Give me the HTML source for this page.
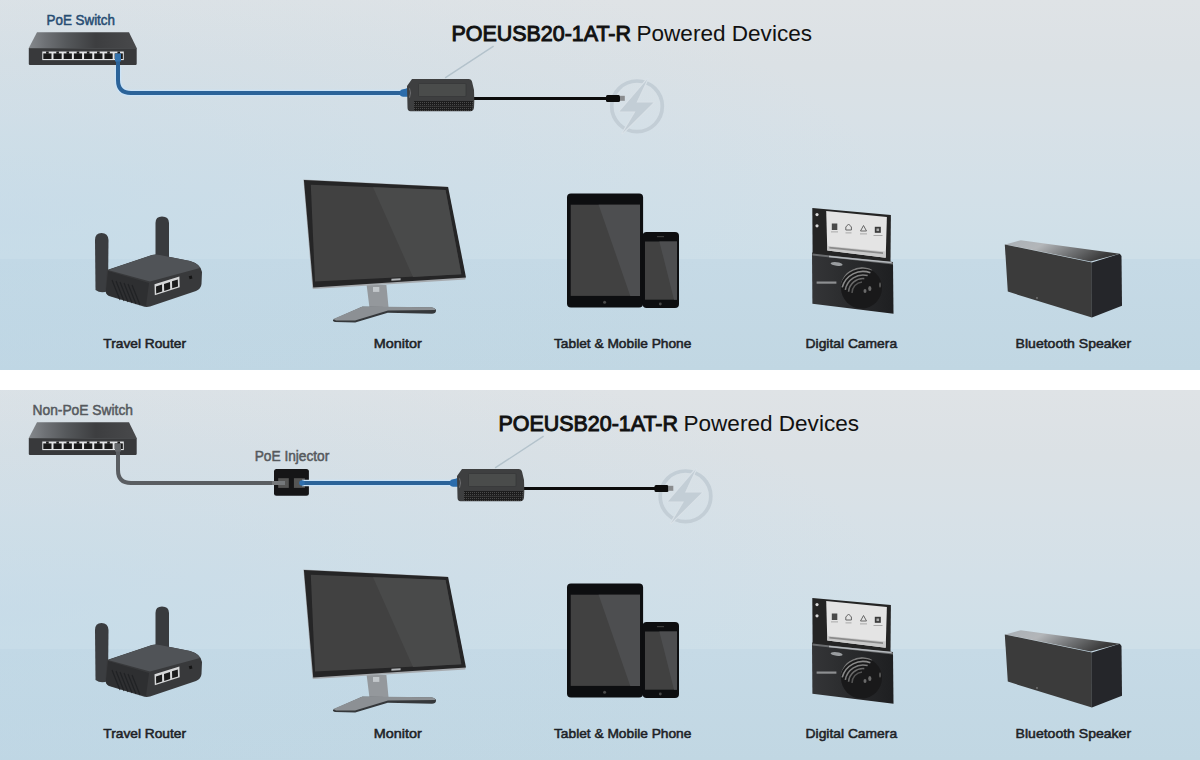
<!DOCTYPE html>
<html><head><meta charset="utf-8">
<style>
html,body{margin:0;padding:0;background:#fff;width:1200px;height:760px;overflow:hidden}
svg{display:block}
text{font-family:"Liberation Sans",sans-serif}
</style></head>
<body>
<svg width="1200" height="760" viewBox="0 0 1200 760">
<defs>
  <linearGradient id="sky" x1="0" y1="0" x2="0" y2="1">
    <stop offset="0" stop-color="#dfe3e6"/>
    <stop offset="0.25" stop-color="#dbe1e5"/>
    <stop offset="0.46" stop-color="#d8e1e7"/>
    <stop offset="0.73" stop-color="#d3e0e8"/>
    <stop offset="1" stop-color="#cedfe8"/>
  </linearGradient>
  <linearGradient id="flr" x1="0" y1="0" x2="0" y2="1">
    <stop offset="0" stop-color="#c6dae6"/>
    <stop offset="1" stop-color="#c1d7e3"/>
  </linearGradient>
  <radialGradient id="skyov" gradientUnits="userSpaceOnUse" cx="0" cy="220" r="900" gradientTransform="translate(0 220) scale(1 0.3333) translate(0 -220)">
    <stop offset="0" stop-color="#bed8e8" stop-opacity="0.5"/>
    <stop offset="1" stop-color="#bed8e8" stop-opacity="0"/>
  </radialGradient>
  <linearGradient id="flrov" gradientUnits="userSpaceOnUse" x1="0" y1="0" x2="700" y2="0">
    <stop offset="0" stop-color="#bcd6e6" stop-opacity="0.4"/>
    <stop offset="1" stop-color="#bcd6e6" stop-opacity="0"/>
  </linearGradient>
  <g id="bgp">
    <rect x="0" y="0" width="1200" height="259" fill="url(#sky)"/>
    <rect x="0" y="0" width="1200" height="259" fill="url(#skyov)"/>
    <rect x="0" y="259" width="1200" height="111" fill="url(#flr)"/>
    <rect x="0" y="259" width="1200" height="111" fill="url(#flrov)"/>
  </g>

  <linearGradient id="swtop" x1="0" y1="0" x2="1" y2="0">
    <stop offset="0" stop-color="#85898d"/>
    <stop offset="0.15" stop-color="#6e7175"/>
    <stop offset="0.35" stop-color="#55585b"/>
    <stop offset="0.62" stop-color="#3d3e40"/>
    <stop offset="1" stop-color="#48494b"/>
  </linearGradient>
  <linearGradient id="spktop" x1="0" y1="0" x2="1" y2="0.3">
    <stop offset="0" stop-color="#a9b0b6"/>
    <stop offset="0.35" stop-color="#b3b6b9"/>
    <stop offset="0.7" stop-color="#6e7072"/>
    <stop offset="1" stop-color="#3a3a3a"/>
  </linearGradient>
  <linearGradient id="cambody" x1="0" y1="0" x2="1" y2="0">
    <stop offset="0" stop-color="#343537"/>
    <stop offset="1" stop-color="#1e1f21"/>
  </linearGradient>
  <clipPath id="lensclip"><circle cx="861.5" cy="288" r="21"/></clipPath>
  <g id="sw">
    <polygon points="37,32.3 129,32.3 136.7,48.1 28.8,48.1" fill="url(#swtop)"/>
    <rect x="28.8" y="48.1" width="107.9" height="16.8" rx="0.8" fill="#38393b"/>
    <rect x="28.8" y="48.1" width="107.9" height="0.9" fill="#4a4b4d"/>
    <rect x="42.3" y="51.5" width="81.5" height="8.6" fill="#e2e4e6"/>
    <rect x="43.30" y="53.4" width="8.2" height="5.6" fill="#1a1a1a"/><rect x="46.10" y="51.5" width="2.6" height="2.2" fill="#1a1a1a"/><rect x="53.49" y="53.4" width="8.2" height="5.6" fill="#1a1a1a"/><rect x="56.29" y="51.5" width="2.6" height="2.2" fill="#1a1a1a"/><rect x="63.68" y="53.4" width="8.2" height="5.6" fill="#1a1a1a"/><rect x="66.48" y="51.5" width="2.6" height="2.2" fill="#1a1a1a"/><rect x="73.87" y="53.4" width="8.2" height="5.6" fill="#1a1a1a"/><rect x="76.67" y="51.5" width="2.6" height="2.2" fill="#1a1a1a"/><rect x="84.06" y="53.4" width="8.2" height="5.6" fill="#1a1a1a"/><rect x="86.86" y="51.5" width="2.6" height="2.2" fill="#1a1a1a"/><rect x="94.25" y="53.4" width="8.2" height="5.6" fill="#1a1a1a"/><rect x="97.05" y="51.5" width="2.6" height="2.2" fill="#1a1a1a"/><rect x="104.44" y="53.4" width="8.2" height="5.6" fill="#1a1a1a"/><rect x="107.24" y="51.5" width="2.6" height="2.2" fill="#1a1a1a"/><rect x="114.63" y="53.4" width="8.2" height="5.6" fill="#1a1a1a"/><rect x="117.43" y="51.5" width="2.6" height="2.2" fill="#1a1a1a"/>
  </g>
  <pattern id="vent" width="2" height="2" patternUnits="userSpaceOnUse">
    <rect width="2" height="2" fill="#1c1c1c"/><rect width="1" height="1" fill="#4a4a4a"/>
  </pattern>
  <g id="pd">
    <line x1="445.1" y1="77.9" x2="493.6" y2="46.2" stroke="#b3c2cb" stroke-width="1.4"/>
    <path d="M412,79 L469,79 Q471.5,79 472,81.5 L474,90 L474.3,101 L474,107.5 Q473.5,111.3 470.5,111.3 L410.5,111.3 Q407.5,111.3 407.5,107.5 L407,86 Z" fill="#3e3f40"/>
    <rect x="418.5" y="83.5" width="47.5" height="13" rx="1" fill="#4a4c4b" stroke="#363738" stroke-width="0.8"/>
    <path d="M414,101 L473,101 L472,110.8 L414,110.8 Z" fill="url(#vent)"/>
    <rect x="414" y="105.8" width="58.5" height="0.9" fill="#3a3a3a"/>
    <path d="M409,88.5 Q410.8,92.5 409,97.5 L410,97.8 Q411.8,93 410,88.3 Z" fill="#8a8c8e" opacity="0.7"/>
  </g>
  <g id="plg">
    <circle cx="637" cy="106.3" r="25.3" fill="none" stroke="#c3ced6" stroke-width="3.7"/>
    <polygon points="647.5,79 619.5,111.5 635.5,111.5 622.5,133.2 653.5,102.5 636.5,102.5" fill="#c3ced6" stroke="#dae2e8" stroke-width="2.2" stroke-linejoin="round" paint-order="stroke"/>
    <rect x="606" y="95" width="14" height="7" rx="1.5" fill="#0c0c0c"/>
    <rect x="620" y="95.8" width="4.8" height="5" fill="#8a8c8e"/>
  </g>
  <g id="devices">
    <!-- Travel router -->
    <path d="M95,240 Q95,233 101.5,233 Q108,233 108.5,240 L108,291 Q101,294 95.5,290 Z" fill="#3b3d40"/>
    <path d="M155.5,223 Q155.5,216.6 162,216.6 Q168.8,216.6 169,223 L169,262 L155.5,262 Z" fill="#393b3e"/>
    <path d="M107,270 L152,255 Q156,254 160,255 L190,261 Q201,264 202,272 L201.5,284 Q201,289 196,291 L150,306.5 Q146,307.5 142,306 L109,296 Q105.5,294.5 105.5,290 Z" fill="#38393b"/>
    <path d="M108,270 L152,255 Q156,254 160,255 L190,261 Q198,263.5 200,268 L150,281.5 Z" fill="#505357"/>
    <path d="M108,271 L149,283 L146,306 L109,295.5 Q106,294 106,290 Z" fill="#2e2f31"/>
    <g stroke="#1d1f21" stroke-width="1.1" opacity="0.8">
      <line x1="112" y1="280" x2="120" y2="300"/><line x1="116" y1="281" x2="124" y2="301"/>
      <line x1="120" y1="282" x2="128" y2="302"/><line x1="124" y1="283" x2="132" y2="303"/>
      <line x1="128" y1="284" x2="136" y2="304"/><line x1="132" y1="285" x2="140" y2="305"/>
    </g>
    <polygon points="154.5,284.3 179.4,276.6 179.7,287.3 154.8,295.3" fill="#d6d7d8"/>
    <g fill="#1c1c1c">
      <polygon points="156,286.5 162,284.6 162.2,291.5 156.2,293.4"/>
      <polygon points="164,283.9 170,282 170.2,289 164.2,290.9"/>
      <polygon points="172,281.3 177.8,279.5 178,286.5 172.2,288.3"/>
    </g>
    <rect x="189" y="276" width="3" height="3" fill="#151515" transform="rotate(-15 190 277)"/>
    <!-- Monitor -->
    <polygon points="366.6,285 386.4,285 388.5,307 369.4,307" fill="#94989c"/>
    <rect x="373" y="287" width="6.3" height="4.9" fill="#c2c7cb"/>
    <path d="M333.3,319.5 L362.3,306.7 L431.7,307.5 Q436.5,308.5 436,311 Q435.5,313.8 432,313.8 L387.8,312.8 L355.2,322.6 L335,322 Q332,321 333.3,319.5 Z" fill="#35383b"/>
    <path d="M333.3,319 L362.3,306.5 L431.7,307.3 Q435.5,308 435,310 L388,310.5 L355,320.5 L336,320.5 Z" fill="#8c9094"/>
    <polygon points="303.4,179.5 447.6,186.8 465.5,277.4 465.3,279.5 313.2,289 312.4,287.9" fill="#a6aaae"/>
    <polygon points="303.9,179.9 448.1,187.1 466,277.4 313.2,287.4" fill="#252526"/>
    <polygon points="310.8,184.7 445.5,190 461.3,274.2 315,281.6" fill="#414141"/>
    <polygon points="373,187.2 445.5,190 461.3,274.2 413,277" fill="#494a4a"/>
    <polygon points="391.4,278.8 400.6,278.3 400.6,280.3 391.4,280.8" fill="#b0b3b6"/>
    <!-- Tablet -->
    <rect x="567" y="193.6" width="76.1" height="113.8" rx="4" fill="#0d0e10"/>
    <rect x="570.7" y="204.7" width="69.3" height="91.2" fill="#414141"/>
    <polygon points="598.6,204.7 640,204.7 640,295.9 630.3,295.9" fill="#4d4e50"/>
    <!-- Phone -->
    <rect x="642.6" y="232" width="36.4" height="75.9" rx="4" fill="#0d0e10"/>
    <rect x="645" y="241.5" width="32" height="58.2" fill="#414141"/>
    <polygon points="659.4,241.5 677,241.5 677,299.7 674,299.7" fill="#4d4e50"/>
    <circle cx="604.6" cy="302.3" r="1.5" fill="#4a4a4a"/><circle cx="660.3" cy="304" r="1.4" fill="#4a4a4a"/><rect x="657" y="236" width="7" height="1.2" fill="#3a3a3a"/>
    <!-- Camera -->
    <polygon points="812,252.5 893,262 893.5,313.8 812.4,303.7" fill="url(#cambody)"/>
    <polygon points="812.3,207.9 890.9,215 890.5,262 812.6,254" fill="#242424"/>
    <polygon points="826.2,211.1 886.9,217 885.7,257.7 827.3,250.6" fill="#e4e4e4"/>
    <polygon points="827.5,246 885.8,251.5 885.7,257.7 827.3,250.6" fill="#c9c9c9"/>
    <polygon points="829.3,246.8 883,252.2 883,254 829.3,248.6" fill="#8a8a8a"/>
    <rect x="831.8" y="223.5" width="5.5" height="6.5" fill="#4a4a4a"/>
    <path d="M845.8,230 L845.8,227 L848.6,224 L851.4,227 L851.4,230 Z" fill="none" stroke="#666" stroke-width="1"/>
    <path d="M860.5,231 L863.5,225.5 L866.5,231 Z" fill="none" stroke="#666" stroke-width="1"/>
    <rect x="874.8" y="226.8" width="6" height="6" fill="#3a3a3a"/>
    <rect x="876.5" y="228.5" width="2.6" height="2.6" fill="#aaa"/>
    <g fill="#9a9a9a"><rect x="831" y="231.5" width="7" height="0.8"/><rect x="845.5" y="232.5" width="6" height="0.8"/><rect x="860" y="233.5" width="7" height="0.8"/><rect x="873.5" y="235" width="9" height="0.8"/></g>
    <g fill="#d8d8d8">
      <circle cx="817" cy="214.6" r="1.6"/>
      <circle cx="817" cy="225.8" r="1.6"/>
    </g>
    <polygon points="812.4,253.5 893,262.5 893,264.5 812.4,255.5" fill="#6a6c6e"/>
    <polygon points="829,255.8 891.6,261.8 891.6,263.2 829,257.2" fill="#b4b8bc"/>
    <ellipse cx="836.6" cy="264" rx="6" ry="1.8" fill="#9a9da0" transform="rotate(6 836.6 264)"/>
    <rect x="816.6" y="281.5" width="19.8" height="2.2" fill="#8d8f91"/>
    <circle cx="861.5" cy="288" r="20.5" fill="#19191a"/>
    <g fill="none" clip-path="url(#lensclip)"><path d="M839.5,284.4 A25,25 0 0 1 872.4,269.8" stroke="#7a7a7a" stroke-width="1.6"/><path d="M842.2,287.4 A21.5,21.5 0 0 1 870.4,272.8" stroke="#8a8a8a" stroke-width="1.6"/><path d="M845.3,289.9 A18,18 0 0 1 867.7,275.6" stroke="#7e7e7e" stroke-width="1.6"/><path d="M848.6,291.7 A14.5,14.5 0 0 1 864.3,278.6" stroke="#6a6a6a" stroke-width="1.6"/><path d="M852.0,293.0 A11,11 0 0 1 862.0,282.0" stroke="#555" stroke-width="1.5"/>
      <path d="M881.8,299.8 A20,20 0 0 1 869.8,311.8" stroke="#3a3a3a" stroke-width="1.5"/>
    </g>
    <g fill="#6a6a6a"><ellipse cx="869.8" cy="288.5" rx="1.6" ry="2.6"/><ellipse cx="865" cy="291" rx="1.5" ry="2"/><ellipse cx="880" cy="285" rx="1" ry="2.8" fill="#555"/></g>
    <!-- Speaker -->
    <polygon points="1005.2,244.4 1020.8,240.2 1119.8,253.75 1090.6,261.5" fill="url(#spktop)"/>
    <polygon points="1004.8,244.4 1091.9,262.5 1091.9,317.6 1007.8,291.6" fill="#3b3b3b"/>
    <polygon points="1091.9,262.5 1119.8,253.75 1121.5,256 1122,305.8 1091.9,317.6" fill="#25262a"/>
    <circle cx="1037" cy="298" r="0.9" fill="#777"/>
    <!-- Labels -->
    <g font-size="13.7" fill="#1e2226" stroke="#1e2226" stroke-width="0.55">
      <text x="103.3" y="347.7" textLength="82.7" lengthAdjust="spacingAndGlyphs">Travel Router</text>
      <text x="373.8" y="347.7" textLength="48" lengthAdjust="spacingAndGlyphs">Monitor</text>
      <text x="554" y="347.7" textLength="137.4" lengthAdjust="spacingAndGlyphs">Tablet &amp; Mobile Phone</text>
      <text x="805.6" y="347.7" textLength="91.5" lengthAdjust="spacingAndGlyphs">Digital Camera</text>
      <text x="1015.6" y="347.7" textLength="115.5" lengthAdjust="spacingAndGlyphs">Bluetooth Speaker</text>
    </g>
  </g>
</defs>
<use href="#bgp"/>
<use href="#bgp" y="390"/>
<use href="#devices"/>
<use href="#devices" y="390"/>
<!-- top panel -->
<use href="#sw"/>
<path d="M118,66.5 L118,80 Q118,93 131,93 L404,93" fill="none" stroke="#cbe3f7" stroke-width="6.5"/>
<path d="M118,58 L118,80 Q118,93 131,93 L404,93" fill="none" stroke="#2b6399" stroke-width="4"/>
<rect x="115" y="53.5" width="6" height="8" fill="#3573ad"/>
<path d="M400,91 Q401,89.5 403,89.3 L405.5,88.8 Q407,87.8 409,88.2 L410,90 L410,95.5 Q409.5,97 407.5,96.8 L403,96.8 Q401,96.6 400,95.2 Z" fill="#2b6cab"/>
<rect x="472" y="97" width="136" height="3" fill="#0c0c0c"/>
<use href="#pd"/>
<use href="#plg"/>
<text x="451.5" y="40.7" font-size="22.6" fill="#111" stroke="#111" stroke-width="1.0" textLength="179.5" lengthAdjust="spacingAndGlyphs">POEUSB20-1AT-R</text><text x="636.5" y="40.7" font-size="22.6" fill="#111" textLength="175.5" lengthAdjust="spacingAndGlyphs">Powered Devices</text>
<text x="46.5" y="24.7" font-size="14" fill="#264c72" stroke="#264c72" stroke-width="0.5" textLength="68.5" lengthAdjust="spacingAndGlyphs">PoE Switch</text>
<!-- bottom panel -->
<use href="#sw" y="390"/>
<path d="M118,448 L118,470 Q118,483 131,483 L276,483" fill="none" stroke="#5a5e62" stroke-width="4"/>
<rect x="115" y="443.5" width="6" height="8" fill="#66696c"/>
<rect x="274" y="469" width="34.9" height="26.7" rx="2.5" fill="#151517"/>
<rect x="278.2" y="478.2" width="10.6" height="9.7" fill="#555"/>
<rect x="293.9" y="478.2" width="11" height="9.7" fill="#555"/>
<path d="M272,483 L285,483" stroke="#75787b" stroke-width="4"/>
<path d="M302,483 L454,483" fill="none" stroke="#cbe3f7" stroke-width="6.5"/>
<path d="M302,483 L454,483" fill="none" stroke="#2b6399" stroke-width="4"/>
<circle cx="302" cy="483" r="2.8" fill="#2f6fae"/>
<path d="M450,481 Q451,479.5 453,479.3 L455.5,478.8 Q457,477.8 459,478.2 L460,480 L460,485.5 Q459.5,487 457.5,486.8 L453,486.8 Q451,486.6 450,485.2 Z" fill="#2b6cab"/>
<rect x="522" y="487" width="134.5" height="3" fill="#0c0c0c"/>
<use href="#pd" x="50" y="390"/>
<use href="#plg" x="48.5" y="390"/>
<text x="498.5" y="430.7" font-size="22.6" fill="#111" stroke="#111" stroke-width="1.0" textLength="179.5" lengthAdjust="spacingAndGlyphs">POEUSB20-1AT-R</text><text x="683.5" y="430.7" font-size="22.6" fill="#111" textLength="175.5" lengthAdjust="spacingAndGlyphs">Powered Devices</text>
<text x="32.5" y="414.7" font-size="14" fill="#55595d" stroke="#55595d" stroke-width="0.5" textLength="100.5" lengthAdjust="spacingAndGlyphs">Non-PoE Switch</text>
<text x="254.7" y="460.7" font-size="14" fill="#55595d" stroke="#55595d" stroke-width="0.5" textLength="74.6" lengthAdjust="spacingAndGlyphs">PoE Injector</text>

</svg>
</body></html>
